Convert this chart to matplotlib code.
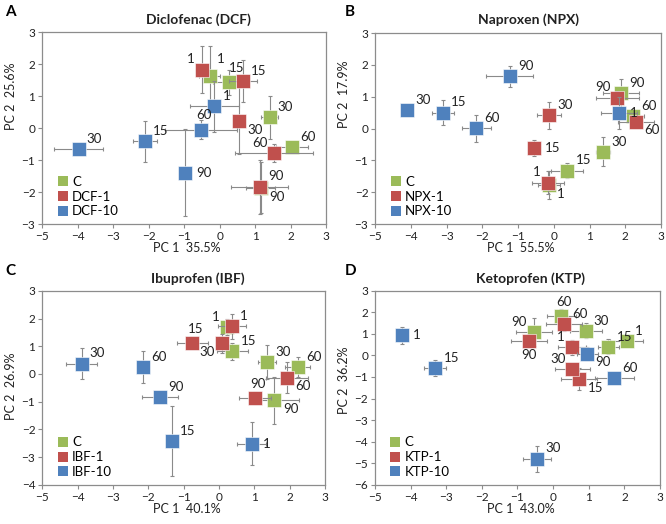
import matplotlib
matplotlib.use("Agg")
import matplotlib.pyplot as plt
from matplotlib.lines import Line2D

plt.rcParams['font.family'] = ['Lato', 'DejaVu Sans']

times = ['1', '15', '30', '60', '90']
colors = ['#9BBB59', '#C0504D', '#4F81BD']

# ---------------- Panel A: Diclofenac ----------------
a_title = 'Diclofenac (DCF)'
a_series = ['C', 'DCF-1', 'DCF-10']
a_xlabel = 'PC 1  35.5%'
a_ylabel = 'PC 2  25.6%'
a_c_x = [-0.29, 0.25, 1.40, 2.04, 1.15]
a_c_y = [1.63, 1.44, 0.34, -0.58, -1.87]
a_c_xe = [0.30, 0.45, 0.25, 0.45, 0.40]
a_c_ye = [0.95, 0.40, 0.67, 0.10, 0.80]
a_1_x = [-0.51, 0.65, 0.54, 1.53, 1.12]
a_1_y = [1.84, 1.48, 0.23, -0.77, -1.83]
a_1_xe = [0.15, 0.40, 0.10, 1.10, 0.80]
a_1_ye = [0.75, 0.65, 1.05, 0.28, 0.85]
a_10_x = [-0.15, -2.11, -3.98, -0.53, -0.98]
a_10_y = [0.69, -0.41, -0.66, -0.04, -1.39]
a_10_xe = [0.70, 0.33, 0.68, 1.00, 0.15]
a_10_ye = [0.80, 0.65, 0.05, 0.30, 1.37]

# ---------------- Panel B: Naproxen ----------------
b_title = 'Naproxen (NPX)'
b_series = ['C', 'NPX-1', 'NPX-10']
b_xlabel = 'PC 1  55.5%'
b_ylabel = 'PC 2  17.9%'
b_c_x = [-0.14, 0.37, 1.37, 2.21, 1.88]
b_c_y = [-1.77, -1.32, -0.73, 0.38, 1.11]
b_c_xe = [0.30, 0.45, 0.20, 0.30, 0.50]
b_c_ye = [0.45, 0.25, 0.45, 0.20, 0.45]
b_1_x = [-0.17, -0.56, -0.14, 2.30, 1.77]
b_1_y = [-1.70, -0.60, 0.42, 0.22, 0.97]
b_1_xe = [0.45, 0.10, 0.33, 0.50, 0.60]
b_1_ye = [0.35, 0.25, 0.42, 0.10, 0.20]
b_10_x = [1.82, -3.11, -4.11, -2.17, -1.24]
b_10_y = [0.48, 0.50, 0.59, 0.01, 1.64]
b_10_xe = [0.50, 0.30, 0.15, 0.40, 0.65]
b_10_ye = [0.50, 0.38, 0.05, 0.42, 0.33]

# ---------------- Panel C: Ibuprofen ----------------
c_title = 'Ibuprofen (IBF)'
c_series = ['C', 'IBF-1', 'IBF-10']
c_xlabel = 'PC 1  40.1%'
c_ylabel = 'PC 2  26.9%'
c_c_x = [0.22, 0.38, 1.35, 2.23, 1.57]
c_c_y = [1.70, 0.82, 0.43, 0.25, -0.95]
c_c_xe = [0.15, 0.45, 0.25, 0.35, 0.70]
c_c_ye = [0.30, 0.30, 0.60, 0.35, 0.85]
c_1_x = [0.36, -0.75, 0.08, 1.93, 1.02]
c_1_y = [1.72, 1.12, 1.10, -0.13, -0.87]
c_1_xe = [0.40, 0.45, 0.15, 0.60, 0.45]
c_1_ye = [0.45, 0.20, 0.35, 0.55, 0.20]
c_10_x = [0.92, -1.34, -3.89, -2.14, -1.67]
c_10_y = [-2.52, -2.43, 0.37, 0.25, -0.83]
c_10_xe = [0.40, 0.10, 0.45, 0.10, 0.50]
c_10_ye = [0.77, 1.27, 0.57, 0.57, 0.10]

# ---------------- Panel D: Ketoprofen ----------------
d_title = 'Ketoprofen (KTP)'
d_series = ['C', 'KTP-1', 'KTP-10']
d_xlabel = 'PC 1  43.0%'
d_ylabel = 'PC 2  36.2%'
d_c_x = [2.06, 1.55, 0.91, 0.23, -0.54]
d_c_y = [0.68, 0.40, 1.14, 1.82, 1.07]
d_c_xe = [0.45, 0.30, 0.45, 0.40, 0.50]
d_c_ye = [0.10, 0.35, 0.35, 0.35, 0.65]
d_1_x = [0.53, 0.73, 0.54, 0.30, -0.68]
d_1_y = [0.37, -1.10, -0.64, 1.45, 0.68]
d_1_xe = [0.40, 0.50, 0.50, 0.50, 0.50]
d_1_ye = [0.35, 0.50, 0.10, 0.30, 0.10]
d_10_x = [-4.25, -3.31, -0.45, 1.72, 0.96]
d_10_y = [0.94, -0.58, -4.79, -1.07, 0.09]
d_10_xe = [0.10, 0.30, 0.40, 0.55, 0.30]
d_10_ye = [0.40, 0.38, 0.60, 0.10, 0.30]

# label placement (style)
a_pos = [['uR', 'uc', 'ur', 'ur', 'lr'], ['ul', 'ur', 'lr', 'ul', 'ur'], ['ur', 'ur', 'ur', 'u', 'r']]
b_pos = [['lr', 'ur', 'ur', 'ur', 'ur'], ['ul', 'r', 'ur', 'lr', 'ul'], ['r', 'ur', 'ur', 'ur', 'ur']]
c_pos = [['ul', 'ur', 'ur', 'ur', 'lr'], ['ur', 'u', 'll', 'lr', 'u'], ['r', 'ur', 'ur', 'ur', 'ur']]
d_pos = [['ur', 'ur', 'ur', 'u', 'ul'], ['ul', 'lr', 'ul', 'ur', 'd'], ['r', 'ur', 'ur', 'ur', 'lr']]

offsets = {
    'ur': (6, 3, 'left', 'bottom'),
    'uR': (5, 8, 'left', 'bottom'),
    'uc': (0, 6, 'left', 'bottom'),
    'ul': (-5, 3, 'right', 'bottom'),
    'lr': (6, -2, 'left', 'top'),
    'll': (-5, -2, 'right', 'top'),
    'r': (8, 0, 'left', 'center'),
    'u': (2, 6, 'center', 'bottom'),
    'd': (0, -6, 'center', 'top'),
}

W, H = 666.0, 524.0
panels = [
    ('A', a_title, a_series, a_xlabel, a_ylabel, (-3, 3),
     [(a_c_x, a_c_y, a_c_xe, a_c_ye), (a_1_x, a_1_y, a_1_xe, a_1_ye), (a_10_x, a_10_y, a_10_xe, a_10_ye)], a_pos,
     [0.0635, 0.5725, 0.4265, 0.3655], (198, 20), (5, 12), 0.667),
    ('B', b_title, b_series, b_xlabel, b_ylabel, (-3, 3),
     [(b_c_x, b_c_y, b_c_xe, b_c_ye), (b_1_x, b_1_y, b_1_xe, b_1_ye), (b_10_x, b_10_y, b_10_xe, b_10_ye)], b_pos,
     [0.5635, 0.5725, 0.429, 0.3645], (529, 20), (345, 12), 0.677),
    ('C', c_title, c_series, c_xlabel, c_ylabel, (-4, 3),
     [(c_c_x, c_c_y, c_c_xe, c_c_ye), (c_1_x, c_1_y, c_1_xe, c_1_ye), (c_10_x, c_10_y, c_10_xe, c_10_ye)], c_pos,
     [0.0635, 0.075, 0.4245, 0.37], (198, 279), (5, 271), 0.51),
    ('D', d_title, d_series, d_xlabel, d_ylabel, (-6, 3),
     [(d_c_x, d_c_y, d_c_xe, d_c_ye), (d_1_x, d_1_y, d_1_xe, d_1_ye), (d_10_x, d_10_y, d_10_xe, d_10_ye)], d_pos,
     [0.563, 0.075, 0.428, 0.37], (530, 279), (345, 271), 0.54),
]

fig = plt.figure(figsize=(6.66, 5.24), dpi=100)
spine_col = '#8c8c8c'
txt_col = '#222222'

for letter, title, series, xlabel, ylabel, ylim, data, pos, rect, tpos, lpos, ylab_y in panels:
    ax = fig.add_axes(rect)
    ax.set_xlim(-5, 3)
    ax.set_ylim(*ylim)
    ax.set_xticks(range(-5, 4))
    ax.set_yticks(range(ylim[0], ylim[1] + 1))
    for s in ax.spines.values():
        s.set_color(spine_col)
        s.set_linewidth(0.9)
    ax.tick_params(direction='out', length=3, width=0.8, color=spine_col,
                   labelsize=8.5, pad=2, labelcolor=txt_col)
    for k, (xs, ys, xe, ye) in enumerate(data):
        ax.errorbar(xs, ys, xerr=xe, yerr=ye, fmt='none', ecolor='#8a8a8a',
                    elinewidth=0.8, capsize=1.5, capthick=0.8, zorder=2 + k * 2)
        ax.plot(xs, ys, linestyle='none', marker='s', markersize=10.5,
                color=colors[k], markeredgecolor='white', markeredgewidth=0.4,
                zorder=3 + k * 2)
        for i, t in enumerate(times):
            dx, dy, ha, va = offsets[pos[k][i]]
            ax.annotate(t, (xs[i], ys[i]), xytext=(dx, dy),
                        textcoords='offset points', ha=ha, va=va, fontsize=9.5,
                        color=txt_col, zorder=10)
    ax.set_xlabel(xlabel, fontsize=9, color=txt_col)
    ax.set_ylabel(ylabel, fontsize=9, color=txt_col)
    ax.xaxis.set_label_coords(0.51, -0.095)
    ax.yaxis.set_label_coords(-0.088, ylab_y)
    fig.text(tpos[0] / W, 1 - tpos[1] / H, title, fontsize=10, fontweight='bold',
             ha='center', va='center', color=txt_col)
    handles = [Line2D([], [], linestyle='none', marker='s', markersize=7,
                      color=colors[k], markeredgewidth=0) for k in range(3)]
    ax.legend(handles, series, loc='lower left', frameon=False, fontsize=9.5,
              handlelength=0.8, handletextpad=0.3, labelspacing=0.22,
              borderaxespad=0.2, borderpad=0.3, bbox_to_anchor=(0.03, 0.0))
    fig.text(lpos[0] / W, 1 - lpos[1] / H, letter,
             fontsize=11, fontweight='bold', va='center', ha='left')

fig.savefig('out.png', dpi=100)
